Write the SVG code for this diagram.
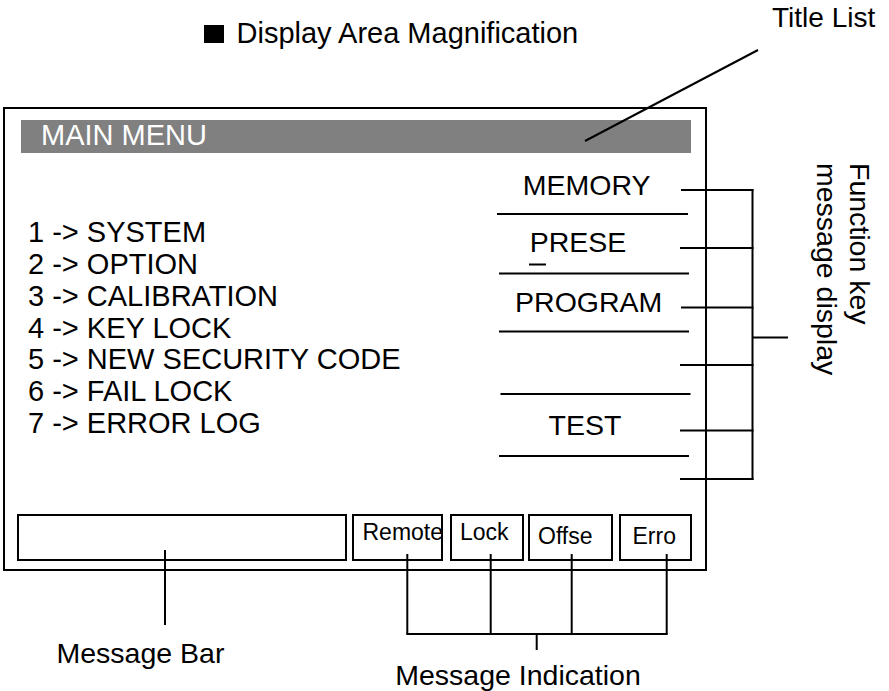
<svg xmlns="http://www.w3.org/2000/svg" width="889" height="691" viewBox="0 0 889 691">
<style>
text{font-family:"Liberation Sans",Arial,sans-serif;font-size:28.5px;fill:#000}
.ln{stroke:#000;stroke-width:2;fill:none}
.box{stroke:#000;stroke-width:2;fill:#fff}
.big{font-size:29px}
.sm{font-size:23px}
.mid{text-anchor:middle}
</style>
<rect width="889" height="691" fill="#fff"/>
<g id="header">
<rect x="204" y="25" width="20" height="18" fill="#000"/>
<text class="big" x="236.5" y="43.3">Display Area Magnification</text>
</g>
<g id="title-list-label"><text x="772" y="27" style="font-size:28px">Title List</text></g>
<g id="screen">
<rect class="box" x="4" y="108" width="702" height="462"/>
<rect x="21" y="120" width="670" height="33" fill="#808080"/>
<text class="big" x="41" y="145" style="fill:#fff">MAIN MENU</text>
</g>
<g id="menu">
<text class="big" x="28" y="241.7">1 -&gt; SYSTEM</text>
<text class="big" x="28" y="273.6">2 -&gt; OPTION</text>
<text class="big" x="28" y="305.6">3 -&gt; CALIBRATION</text>
<text class="big" x="28" y="337.5">4 -&gt; KEY LOCK</text>
<text class="big" x="28" y="369.4">5 -&gt; NEW SECURITY CODE</text>
<text class="big" x="28" y="401.4">6 -&gt; FAIL LOCK</text>
<text class="big" x="28" y="433.3">7 -&gt; ERROR LOG</text>
</g>
<g id="function-keys">
<text x="586.7" y="195" class="mid">MEMORY</text>
<text x="578" y="251.7" class="mid">PRESE</text>
<text x="588.7" y="312.3" class="mid">PROGRAM</text>
<text x="585" y="435" class="mid">TEST</text>
<line class="ln" x1="497" y1="214" x2="688" y2="214"/>
<line class="ln" x1="529" y1="264.5" x2="546" y2="264.5"/>
<line class="ln" x1="499" y1="273.5" x2="689" y2="273.5"/>
<line class="ln" x1="499" y1="331.5" x2="689" y2="331.5"/>
<line class="ln" x1="500.5" y1="394" x2="690.5" y2="394"/>
<line class="ln" x1="499" y1="456" x2="689" y2="456"/>
</g>
<g id="message-bar"><rect class="box" x="18" y="515" width="328" height="45"/></g>
<g id="ind-remote"><rect class="box" x="353" y="515" width="89" height="45"/><text class="sm" x="362.5" y="540">Remote</text></g>
<g id="ind-lock"><rect class="box" x="451" y="515" width="72" height="45"/><text class="sm" x="460" y="540">Lock</text></g>
<g id="ind-offset"><rect class="box" x="529" y="515" width="83" height="45"/><text class="sm" x="538" y="543.5">Offse</text></g>
<g id="ind-error"><rect class="box" x="620" y="515" width="71" height="45"/><text class="sm" x="632.5" y="543.5">Erro</text></g>
<g id="labels">
<text x="56.5" y="663.3">Message Bar</text>
<text x="518" y="685" class="mid">Message Indication</text>
<text transform="translate(850,163) rotate(90)">Function key</text>
<text transform="translate(817,163) rotate(90)">message display</text>
</g>
<g id="connectors">
<line class="ln" x1="585" y1="141" x2="758" y2="50"/>
<line class="ln" x1="681" y1="190" x2="753.5" y2="190"/>
<line class="ln" x1="680" y1="248" x2="753.5" y2="248"/>
<line class="ln" x1="681" y1="307.5" x2="753.5" y2="307.5"/>
<line class="ln" x1="680" y1="365" x2="753.5" y2="365"/>
<line class="ln" x1="680" y1="430.5" x2="753.5" y2="430.5"/>
<line class="ln" x1="680" y1="479" x2="753.5" y2="479"/>
<line class="ln" x1="752.5" y1="189" x2="752.5" y2="480"/>
<line class="ln" x1="752.5" y1="337.5" x2="788" y2="337.5"/>
<line class="ln" x1="165" y1="550" x2="165" y2="625"/>
<line class="ln" x1="407.3" y1="554" x2="407.3" y2="634"/>
<line class="ln" x1="490.7" y1="554" x2="490.7" y2="634"/>
<line class="ln" x1="571.7" y1="554" x2="571.7" y2="634"/>
<line class="ln" x1="666.7" y1="554" x2="666.7" y2="634"/>
<line class="ln" x1="406.3" y1="634" x2="667.7" y2="634"/>
<line class="ln" x1="536.7" y1="634" x2="536.7" y2="650"/>
</g>
</svg>
